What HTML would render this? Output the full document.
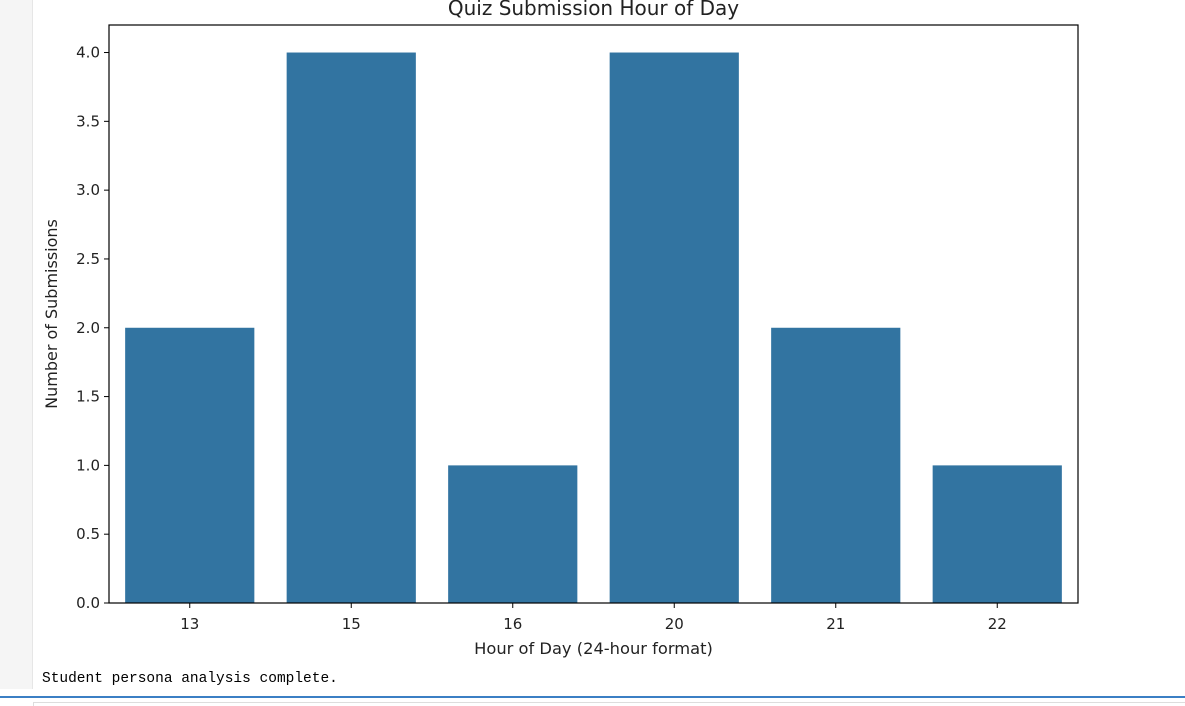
<!DOCTYPE html>
<html><head><meta charset="utf-8"><style>
body{margin:0;width:1185px;height:705px;background:#fff;overflow:hidden;position:relative;font-family:"DejaVu Sans","Liberation Sans",sans-serif}
#strip{position:absolute;left:0;top:0;width:32px;height:689px;background:#f5f5f5;border-right:1px solid #e6e6e6}
#out{position:absolute;left:42px;top:671px;font-family:"Liberation Mono",monospace;font-size:14.5px;color:#000}
#bline{position:absolute;left:0;top:696px;width:1185px;height:2px;background:#3b7fc4}
#bbox{position:absolute;left:33px;top:702px;width:1152px;height:3px;border-top:1px solid #ddd;border-left:1px solid #ddd}
</style></head><body>
<div id="strip"></div>
<svg id="chart" width="1185" height="705" style="position:absolute;left:0;top:0"></svg>
<div id="out">Student persona analysis complete.</div>
<div id="bline"></div>
<div id="bbox"></div>
<script>
const categories=["13","15","16","20","21","22"];
const counts=[2,4,1,4,2,1];
const yTicks=[0,0.5,1.0,1.5,2.0,2.5,3.0,3.5,4.0];
const NS="http://www.w3.org/2000/svg";
const svg=document.getElementById('chart');
const L=109,R=1078,T=25,B=603,yMax=4.2;
const y=v=>B-(v/yMax)*(B-T);
const band=(R-L)/categories.length;
const x=i=>L+band*(i+0.5);
function mk(t,a,txt){const e=document.createElementNS(NS,t);for(const k in a)e.setAttribute(k,a[k]);if(txt!==undefined)e.textContent=txt;svg.appendChild(e);return e;}
counts.forEach((c,i)=>{
 const r=mk('rect',{x:x(i)-band*0.4,y:y(c),width:band*0.8,height:B-y(c),fill:'#3274a1'});
 
 
});
const frame=mk('rect',{x:L,y:T,width:R-L,height:B-T,fill:'none',stroke:'#000','stroke-width':1.2});


yTicks.forEach(v=>{
 mk('line',{x1:L-5,x2:L,y1:y(v),y2:y(v),stroke:'#000'});
 const t=mk('text',{x:L-9,y:y(v)+5,'text-anchor':'end','font-size':15,fill:'#222'},v.toFixed(1));
 
 
});
categories.forEach((c,i)=>{
 mk('line',{x1:x(i),x2:x(i),y1:B,y2:B+5,stroke:'#000'});
 const t=mk('text',{x:x(i),y:B+26,'text-anchor':'middle','font-size':15,fill:'#222'},c);
 
 
});
const xt=mk('text',{x:(L+R)/2,y:654,'text-anchor':'middle','font-size':16.3,fill:'#222'},'Hour of Day (24-hour format)');


const yt=mk('text',{x:0,y:0,transform:'translate(57,314) rotate(-90)','text-anchor':'middle','font-size':16,fill:'#222'},'Number of Submissions');


const tt=mk('text',{x:(L+R)/2,y:15,'text-anchor':'middle','font-size':20,fill:'#222'},'Quiz Submission Hour of Day');


</script>
</body></html>
